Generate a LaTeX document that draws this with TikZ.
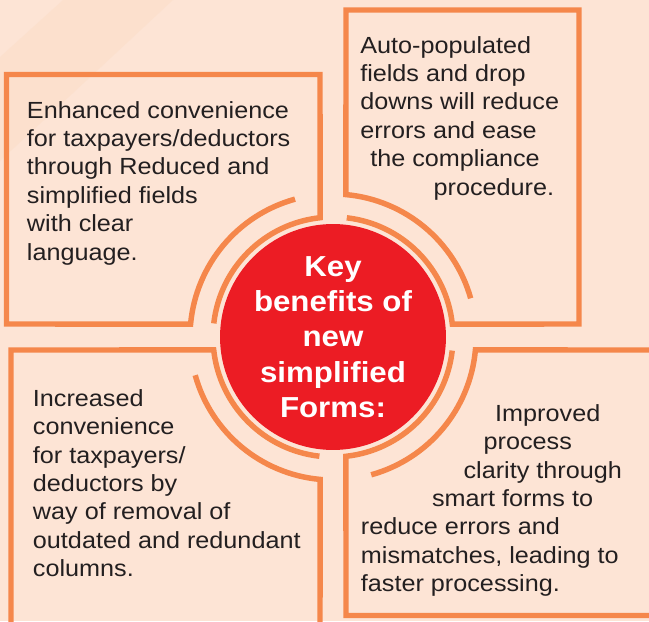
\documentclass[tikz,border=0pt]{standalone}
\usepackage{fontspec}
\setmainfont{Liberation Sans}[FakeStretch=1.08]
\usetikzlibrary{calc}
\definecolor{peachbg}{RGB}{253,228,213}
\definecolor{peachband}{RGB}{252,222,201}
\definecolor{boxorange}{RGB}{245,135,75}
\definecolor{keyred}{RGB}{236,28,36}
\definecolor{inkgray}{RGB}{35,31,32}
\tikzset{
  formbox/.style={draw=boxorange, line width=4.1pt},
  formtext/.style={anchor=base west, inner sep=0pt, align=left, text=inkgray, font=\fontsize{17.5}{21.3}\selectfont},
}
\begin{document}
\begin{tikzpicture}[x=0.75pt,y=0.75pt,yscale=-1,xscale=1]
\useasboundingbox (0,0) rectangle (649,621);
\clip (0,0) rectangle (649,621);
\fill [peachbg] (0,0) rectangle (649,621);
%faint diagonal band top left
\fill [peachband, opacity=0.6] (0,57) -- (63,0) -- (173,0) -- (0,161) -- cycle;
\coordinate (hub) at (333,337);

%Shape: top left box
\draw [formbox] ($(hub)+(254.6:143)$) arc [start angle=254.6, end angle=185.2, radius=143] -- (6.5,324) -- (6.5,74.5) -- (320,74.5) -- ($(hub)+(263.8:120)$) arc [start angle=263.8, end angle=186.5, radius=120] ;
%Shape: top right box
\draw [formbox] ($(hub)+(344.3:143)$) arc [start angle=344.3, end angle=275.2, radius=143] -- (346,10) -- (579,10) -- (579,324) -- ($(hub)+(353.8:120)$) arc [start angle=353.8, end angle=276.6, radius=120] ;
%Shape: bottom right box
\draw [formbox] ($(hub)+(74.5:143)$) arc [start angle=74.5, end angle=5.2, radius=143] -- (665,350) -- (665,615.5) -- (346,615.5) -- ($(hub)+(83.8:120)$) arc [start angle=83.8, end angle=6.5, radius=120] ;
%Shape: bottom left box
\draw [formbox] ($(hub)+(164.5:143)$) arc [start angle=164.5, end angle=95.2, radius=143] -- (320,640) -- (11,640) -- (11,350) -- ($(hub)+(173.8:120)$) arc [start angle=173.8, end angle=96.5, radius=120] ;

% Circle Node
\node (keyhub) [circle, fill=keyred, minimum size=165pt, inner sep=0pt, text=white, align=center, font=\bfseries\fontsize{21.7}{26.5}\selectfont] at (hub) {Key\\benefits of\\new\\simplified\\Forms:};

% Text Node (anchored at the baseline of its last line)
\node (tlnote) [formtext] at (26.7,260) {Enhanced convenience\\for taxpayers/deductors\\through Reduced and\\simplified fields\\with clear\\language.};
% Text Node
\node (trnote) [formtext] at (360,195) {Auto-populated\\fields and drop\\downs will reduce\\errors and ease\\\hspace*{7.5pt}the compliance\\\hspace*{55pt}procedure.};
% Text Node
\node (blnote) [formtext] at (32.7,576.7) {Increased\\convenience\\for taxpayers/\\deductors by\\way of removal of\\outdated and redundant\\columns.};
% Text Node
\node (brnote) [formtext] at (360.7,591.7) {\hspace*{100.7pt}Improved\\\hspace*{92pt}process\\\hspace*{77pt}clarity through\\\hspace*{53.3pt}smart forms to\\reduce errors and\\mismatches, leading to\\faster processing.};
\end{tikzpicture}
\end{document}
